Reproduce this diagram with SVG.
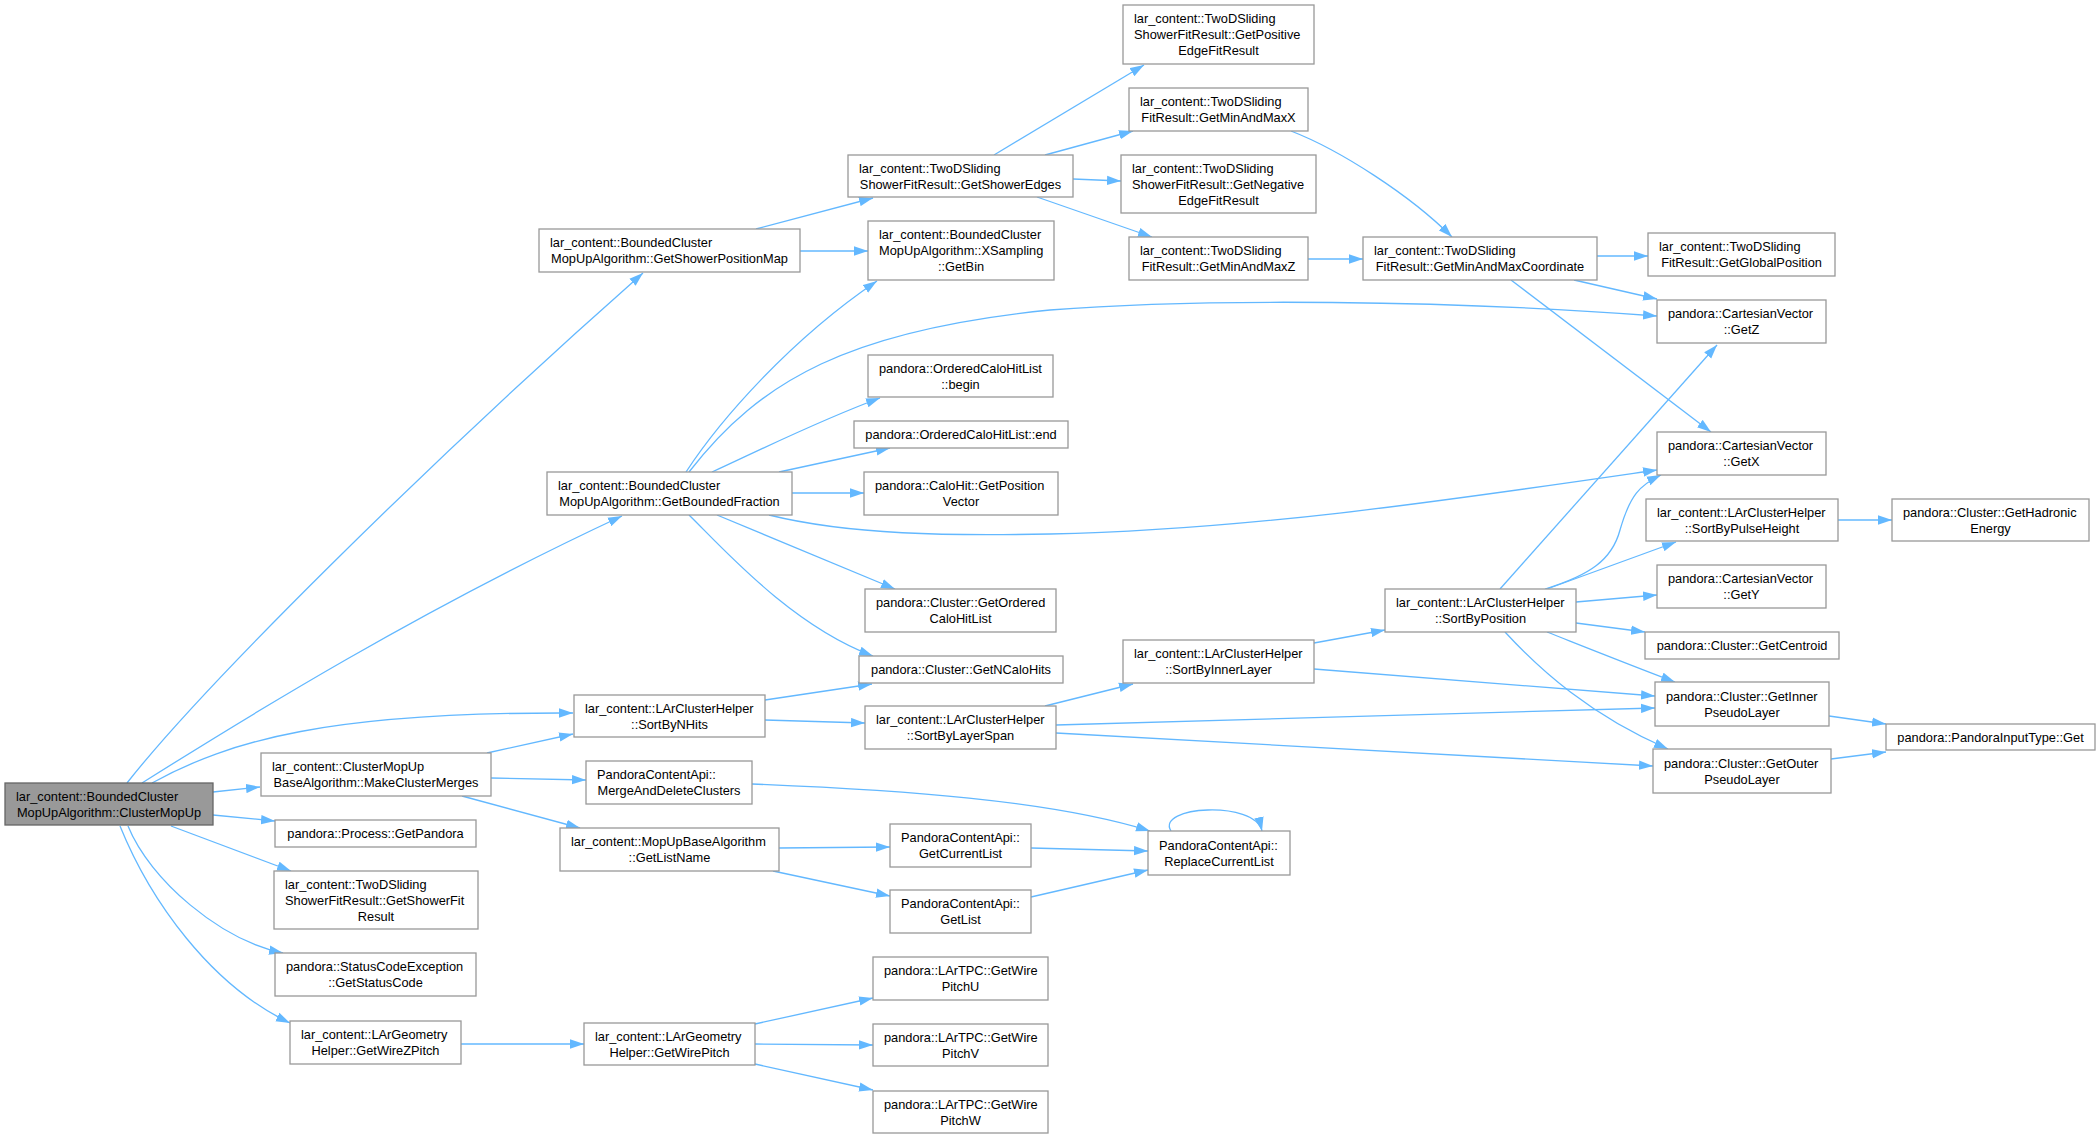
<svg xmlns="http://www.w3.org/2000/svg" width="2100" height="1139" viewBox="0 0 2100 1139">
<defs>
<style>
.n rect{fill:#ffffff;stroke:#999999;stroke-width:1.3}
.n.root rect{fill:#999999;stroke:#666666}
.n text{font-family:"Liberation Sans",Arial,Helvetica,sans-serif;font-size:12.8px;fill:#000000}
.n text.c{text-anchor:middle}
#edges path{fill:none;stroke:#63b8ff;stroke-width:1.3;marker-end:url(#arr)}
</style>
<marker id="arr" viewBox="0 0 14 10" refX="14" refY="5" markerWidth="14" markerHeight="10" markerUnits="userSpaceOnUse" orient="auto">
<path d="M0,0.3 L14,5 L0,9.7 z" fill="#63b8ff"/>
</marker>
</defs>
<rect width="2100" height="1139" fill="#ffffff"/>
<g id="edges">
<path d="M127,783 C200,690 420,470 643,273"/>
<path d="M142,783 C250,715 420,610 622,516"/>
<path d="M152,783 C230,740 330,712 573,713"/>
<path d="M213,792 L260,787"/>
<path d="M213,815 L275,821"/>
<path d="M171,826 L291,871"/>
<path d="M128,826 C150,880 220,940 283,953"/>
<path d="M120,826 C150,900 210,985 290,1023"/>
<path d="M487,753 L573,734"/>
<path d="M491,778 L586,780"/>
<path d="M462,796 L580,828"/>
<path d="M756,229 L873,198"/>
<path d="M800,251 L868,251"/>
<path d="M686,472 C720,420 790,340 877,281"/>
<path d="M689,472 C760,380 850,330 1050,310 C1200,298 1450,300 1657,316"/>
<path d="M712,472 C760,450 820,420 880,398"/>
<path d="M779,472 L890,448"/>
<path d="M792,493 L864,493"/>
<path d="M769,515 C850,535 950,536 1050,534 C1250,530 1450,500 1657,470"/>
<path d="M717,515 L895,589"/>
<path d="M689,515 C720,545 790,625 873,656"/>
<path d="M994,155 L1144,65"/>
<path d="M1045,155 L1133,131"/>
<path d="M1073,179 L1121,181"/>
<path d="M1037,197 L1152,237"/>
<path d="M1291,131 C1340,150 1410,195 1452,237"/>
<path d="M1308,259 L1363,259"/>
<path d="M1597,256 L1648,256"/>
<path d="M1574,280 L1657,299"/>
<path d="M1511,280 L1711,432"/>
<path d="M765,700 L872,684"/>
<path d="M765,720 L865,723"/>
<path d="M1045,706 L1133,684"/>
<path d="M1056,725 L1655,708"/>
<path d="M1056,733 L1653,766"/>
<path d="M1314,643 L1385,630"/>
<path d="M1314,669 L1655,696"/>
<path d="M1500,589 L1717,345"/>
<path d="M1545,589 C1590,575 1612,560 1620,530 C1630,495 1640,485 1661,475"/>
<path d="M1547,589 L1676,542"/>
<path d="M1576,602 L1657,595"/>
<path d="M1576,623 L1645,632"/>
<path d="M1547,632 C1580,645 1630,665 1675,682"/>
<path d="M1505,632 C1540,670 1590,715 1668,749"/>
<path d="M1838,520 L1892,520"/>
<path d="M1829,716 L1886,724"/>
<path d="M1831,759 L1886,752"/>
<path d="M779,848 L890,847"/>
<path d="M773,871 L890,896"/>
<path d="M752,784 C900,790 1050,800 1150,831"/>
<path d="M1031,848 L1148,851"/>
<path d="M1031,897 L1148,870"/>
<path d="M1171,831 C1155,806 1255,800 1262,831"/>
<path d="M461,1044 L584,1044"/>
<path d="M755,1024 L873,998"/>
<path d="M755,1044 L873,1045"/>
<path d="M755,1064 L873,1090"/>
</g>
<g id="n1" class="n root"><rect x="5" y="783" width="208" height="42"/><text x="16" y="800.5">lar_content::BoundedCluster</text><text class="c" x="109" y="816.5">MopUpAlgorithm::ClusterMopUp</text></g>
<g id="n2" class="n"><rect x="539" y="229" width="261" height="43"/><text x="550" y="247">lar_content::BoundedCluster</text><text class="c" x="669.5" y="263">MopUpAlgorithm::GetShowerPositionMap</text></g>
<g id="n3" class="n"><rect x="547" y="472" width="245" height="43"/><text x="558" y="490">lar_content::BoundedCluster</text><text class="c" x="669.5" y="506">MopUpAlgorithm::GetBoundedFraction</text></g>
<g id="n4" class="n"><rect x="574" y="695" width="191" height="42"/><text x="585" y="712.5">lar_content::LArClusterHelper</text><text class="c" x="669.5" y="728.5">::SortByNHits</text></g>
<g id="n5" class="n"><rect x="261" y="753" width="230" height="43"/><text x="272" y="771">lar_content::ClusterMopUp</text><text class="c" x="376" y="787">BaseAlgorithm::MakeClusterMerges</text></g>
<g id="n6" class="n"><rect x="275" y="820" width="201" height="27"/><text class="c" x="375.5" y="838">pandora::Process::GetPandora</text></g>
<g id="n7" class="n"><rect x="274" y="871" width="204" height="58"/><text x="285" y="888.5">lar_content::TwoDSliding</text><text x="285" y="904.5">ShowerFitResult::GetShowerFit</text><text class="c" x="376" y="920.5">Result</text></g>
<g id="n8" class="n"><rect x="275" y="953" width="201" height="43"/><text x="286" y="971">pandora::StatusCodeException</text><text class="c" x="375.5" y="987">::GetStatusCode</text></g>
<g id="n9" class="n"><rect x="290" y="1021" width="171" height="43"/><text x="301" y="1039">lar_content::LArGeometry</text><text class="c" x="375.5" y="1055">Helper::GetWireZPitch</text></g>
<g id="n10" class="n"><rect x="848" y="155" width="225" height="42"/><text x="859" y="172.5">lar_content::TwoDSliding</text><text class="c" x="960.5" y="188.5">ShowerFitResult::GetShowerEdges</text></g>
<g id="n11" class="n"><rect x="868" y="221" width="186" height="59"/><text x="879" y="239">lar_content::BoundedCluster</text><text x="879" y="255">MopUpAlgorithm::XSampling</text><text class="c" x="961" y="271">::GetBin</text></g>
<g id="n12" class="n"><rect x="868" y="355" width="185" height="42"/><text x="879" y="372.5">pandora::OrderedCaloHitList</text><text class="c" x="960.5" y="388.5">::begin</text></g>
<g id="n13" class="n"><rect x="854" y="421" width="214" height="27"/><text class="c" x="961" y="439">pandora::OrderedCaloHitList::end</text></g>
<g id="n14" class="n"><rect x="864" y="472" width="194" height="43"/><text x="875" y="490">pandora::CaloHit::GetPosition</text><text class="c" x="961" y="506">Vector</text></g>
<g id="n15" class="n"><rect x="865" y="589" width="191" height="43"/><text x="876" y="607">pandora::Cluster::GetOrdered</text><text class="c" x="960.5" y="623">CaloHitList</text></g>
<g id="n16" class="n"><rect x="859" y="656" width="204" height="27"/><text class="c" x="961" y="674">pandora::Cluster::GetNCaloHits</text></g>
<g id="n17" class="n"><rect x="865" y="706" width="191" height="43"/><text x="876" y="724">lar_content::LArClusterHelper</text><text class="c" x="960.5" y="740">::SortByLayerSpan</text></g>
<g id="n18" class="n"><rect x="586" y="761" width="166" height="43"/><text x="597" y="779">PandoraContentApi::</text><text class="c" x="669" y="795">MergeAndDeleteClusters</text></g>
<g id="n19" class="n"><rect x="560" y="828" width="219" height="43"/><text x="571" y="846">lar_content::MopUpBaseAlgorithm</text><text class="c" x="669.5" y="862">::GetListName</text></g>
<g id="n20" class="n"><rect x="890" y="824" width="141" height="43"/><text x="901" y="842">PandoraContentApi::</text><text class="c" x="960.5" y="858">GetCurrentList</text></g>
<g id="n21" class="n"><rect x="890" y="890" width="141" height="43"/><text x="901" y="908">PandoraContentApi::</text><text class="c" x="960.5" y="924">GetList</text></g>
<g id="n22" class="n"><rect x="584" y="1023" width="171" height="42"/><text x="595" y="1040.5">lar_content::LArGeometry</text><text class="c" x="669.5" y="1056.5">Helper::GetWirePitch</text></g>
<g id="n23" class="n"><rect x="873" y="957" width="175" height="43"/><text x="884" y="975">pandora::LArTPC::GetWire</text><text class="c" x="960.5" y="991">PitchU</text></g>
<g id="n24" class="n"><rect x="873" y="1024" width="175" height="42"/><text x="884" y="1041.5">pandora::LArTPC::GetWire</text><text class="c" x="960.5" y="1057.5">PitchV</text></g>
<g id="n25" class="n"><rect x="873" y="1091" width="175" height="42"/><text x="884" y="1108.5">pandora::LArTPC::GetWire</text><text class="c" x="960.5" y="1124.5">PitchW</text></g>
<g id="n26" class="n"><rect x="1123" y="5" width="191" height="59"/><text x="1134" y="23">lar_content::TwoDSliding</text><text x="1134" y="39">ShowerFitResult::GetPositive</text><text class="c" x="1218.5" y="55">EdgeFitResult</text></g>
<g id="n27" class="n"><rect x="1129" y="88" width="179" height="43"/><text x="1140" y="106">lar_content::TwoDSliding</text><text class="c" x="1218.5" y="122">FitResult::GetMinAndMaxX</text></g>
<g id="n28" class="n"><rect x="1121" y="155" width="195" height="58"/><text x="1132" y="172.5">lar_content::TwoDSliding</text><text x="1132" y="188.5">ShowerFitResult::GetNegative</text><text class="c" x="1218.5" y="204.5">EdgeFitResult</text></g>
<g id="n29" class="n"><rect x="1129" y="237" width="179" height="43"/><text x="1140" y="255">lar_content::TwoDSliding</text><text class="c" x="1218.5" y="271">FitResult::GetMinAndMaxZ</text></g>
<g id="n30" class="n"><rect x="1363" y="237" width="234" height="43"/><text x="1374" y="255">lar_content::TwoDSliding</text><text class="c" x="1480" y="271">FitResult::GetMinAndMaxCoordinate</text></g>
<g id="n31" class="n"><rect x="1123" y="640" width="191" height="43"/><text x="1134" y="658">lar_content::LArClusterHelper</text><text class="c" x="1218.5" y="674">::SortByInnerLayer</text></g>
<g id="n32" class="n"><rect x="1148" y="831" width="142" height="44"/><text x="1159" y="849.5">PandoraContentApi::</text><text class="c" x="1219" y="865.5">ReplaceCurrentList</text></g>
<g id="n33" class="n"><rect x="1385" y="589" width="191" height="43"/><text x="1396" y="607">lar_content::LArClusterHelper</text><text class="c" x="1480.5" y="623">::SortByPosition</text></g>
<g id="n34" class="n"><rect x="1648" y="233" width="187" height="43"/><text x="1659" y="251">lar_content::TwoDSliding</text><text class="c" x="1741.5" y="267">FitResult::GetGlobalPosition</text></g>
<g id="n35" class="n"><rect x="1657" y="300" width="169" height="43"/><text x="1668" y="318">pandora::CartesianVector</text><text class="c" x="1741.5" y="334">::GetZ</text></g>
<g id="n36" class="n"><rect x="1657" y="432" width="169" height="43"/><text x="1668" y="450">pandora::CartesianVector</text><text class="c" x="1741.5" y="466">::GetX</text></g>
<g id="n37" class="n"><rect x="1646" y="499" width="192" height="42"/><text x="1657" y="516.5">lar_content::LArClusterHelper</text><text class="c" x="1742" y="532.5">::SortByPulseHeight</text></g>
<g id="n38" class="n"><rect x="1892" y="499" width="197" height="42"/><text x="1903" y="516.5">pandora::Cluster::GetHadronic</text><text class="c" x="1990.5" y="532.5">Energy</text></g>
<g id="n39" class="n"><rect x="1657" y="565" width="169" height="43"/><text x="1668" y="583">pandora::CartesianVector</text><text class="c" x="1741.5" y="599">::GetY</text></g>
<g id="n40" class="n"><rect x="1645" y="632" width="194" height="27"/><text class="c" x="1742" y="650">pandora::Cluster::GetCentroid</text></g>
<g id="n41" class="n"><rect x="1655" y="682" width="174" height="44"/><text x="1666" y="700.5">pandora::Cluster::GetInner</text><text class="c" x="1742" y="716.5">PseudoLayer</text></g>
<g id="n42" class="n"><rect x="1653" y="749" width="178" height="44"/><text x="1664" y="767.5">pandora::Cluster::GetOuter</text><text class="c" x="1742" y="783.5">PseudoLayer</text></g>
<g id="n43" class="n"><rect x="1886" y="724" width="209" height="26"/><text class="c" x="1990.5" y="741.5">pandora::PandoraInputType::Get</text></g>
</svg>
